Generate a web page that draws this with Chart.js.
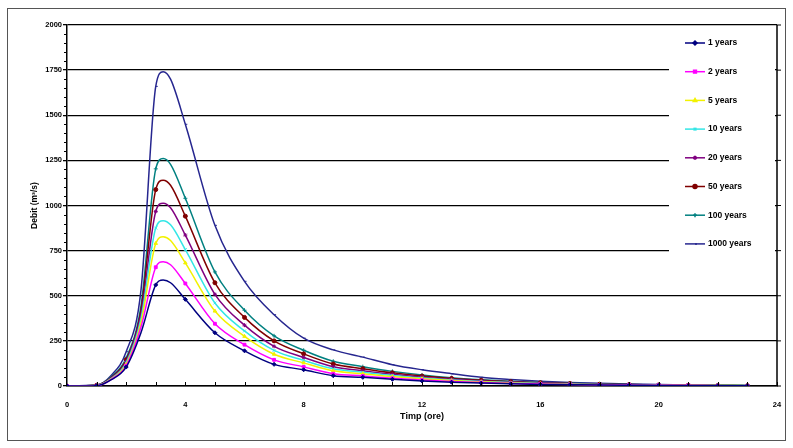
<!DOCTYPE html>
<html>
<head>
<meta charset="utf-8">
<script src="https://cdn.jsdelivr.net/npm/chart.js@4.4.1/dist/chart.umd.min.js"></script>
<style>
  html, body { margin: 0; padding: 0; background: #fff; }
  #wrap { width: 793px; height: 448px; }
</style>
</head>
<body>
<div id="wrap"><canvas id="chart" width="793" height="448"></canvas></div>
<script>
// Data (hours, discharge)
const hours = [0, 1, 1.5, 2, 2.5, 3, 3.25, 3.5, 4, 5, 6, 7, 8, 9, 10, 11, 12, 13, 14, 15, 16, 17, 18, 19, 20, 21, 22, 23];
const seriesLabels = ['1 years', '2 years', '5 years', '10 years', '20 years', '50 years', '100 years', '1000 years'];
const q1 = [0, 2, 35, 105, 295, 560, 587, 572, 480, 295, 195, 120, 90, 57, 48, 37, 28, 21, 16, 12, 9, 7, 5, 4, 3, 2, 2, 1];
const q2 = [0, 2, 37, 112, 325, 658, 689, 672, 568, 345, 229, 145, 106, 68, 56, 43, 33, 25, 19, 14, 11, 8, 6, 5, 4, 3, 2, 1];
const q5 = [0, 3, 40, 120, 350, 790, 827, 806, 682, 415, 275, 176, 128, 84, 68, 52, 40, 30, 23, 17, 13, 10, 7, 5, 4, 3, 3, 2];
const q10 = [0, 3, 42, 128, 372, 875, 916, 893, 756, 460, 305, 197, 142, 95, 76, 58, 44, 33, 25, 19, 14, 11, 8, 6, 5, 3, 3, 2];
const q20 = [0, 3, 45, 136, 395, 967, 1013, 988, 836, 508, 337, 220, 158, 107, 85, 65, 49, 37, 28, 21, 16, 12, 9, 7, 5, 4, 3, 2];
const q50 = [0, 4, 48, 145, 418, 1088, 1140, 1112, 941, 572, 380, 250, 178, 122, 96, 73, 55, 42, 32, 24, 18, 14, 10, 8, 6, 4, 3, 2];
const q100 = [0, 4, 52, 155, 442, 1203, 1260, 1228, 1040, 632, 420, 278, 198, 137, 107, 81, 61, 46, 35, 26, 20, 15, 11, 8, 6, 5, 4, 3];
const q1000 = [0, 5, 60, 190, 530, 1660, 1741, 1700, 1450, 890, 580, 395, 265, 200, 160, 118, 90, 68, 48, 36, 27, 20, 15, 11, 8, 6, 5, 3];
const yTicks = [0, 250, 500, 750, 1000, 1250, 1500, 1750, 2000];
const xTicks = [0, 4, 8, 12, 16, 20, 24];

// Styles
const colors = ['#000080', '#ff00ff', '#f2f200', '#33e6e6', '#800080', '#800000', '#008080', '#26268f'];
const markers = ['rectRot', 'rect', 'triangle', 'crossRot', 'star', 'circle', 'cross', 'dash'];
const FONT = 'Liberation Sans, Arial, sans-serif';

const allSeries = [q1, q2, q5, q10, q20, q50, q100, q1000];

const datasets = allSeries.map((vals, i) => ({
    label: seriesLabels[i],
    data: hours.map((h, j) => ({ x: h, y: vals[j] })),
    borderColor: colors[i],
    backgroundColor: colors[i],
    borderWidth: 1.5,
    pointStyle: markers[i],
    // markers only on the whole hours, as in the original
    pointRadius: c => (c.raw && Number.isInteger(c.raw.x)) ? 2 : 0,
    pointBorderWidth: 1,
    cubicInterpolationMode: 'monotone',
    fill: false
}));

// Frame, right border, minor ticks and legend
const decorPlugin = {
    id: 'decor',
    beforeDraw(chart) {
        const ctx = chart.ctx;
        ctx.save();
        ctx.fillStyle = '#fff';
        ctx.fillRect(0, 0, chart.width, chart.height);
        ctx.strokeStyle = '#555';
        ctx.lineWidth = 1;
        ctx.strokeRect(7.5, 8.5, 778, 432);
        ctx.restore();
    },
    afterDraw(chart) {
        const ctx = chart.ctx;
        const area = chart.chartArea;
        const xs = chart.scales.x;
        const ys = chart.scales.y;
        ctx.save();
        ctx.strokeStyle = '#000';
        // right border with outward ticks
        ctx.lineWidth = 1.5;
        ctx.beginPath();
        ctx.moveTo(area.right, area.top);
        ctx.lineTo(area.right, area.bottom);
        ctx.stroke();
        ctx.lineWidth = 1;
        yTicks.forEach(v => {
            const y = ys.getPixelForValue(v);
            ctx.beginPath();
            ctx.moveTo(area.right, y);
            ctx.lineTo(area.right + 4, y);
            ctx.stroke();
        });
        // y minor ticks
        for (let v = 50; v < 2000; v += 50) {
            if (v % 250 === 0) continue;
            const y = Math.round(ys.getPixelForValue(v)) + 0.5;
            ctx.beginPath();
            ctx.moveTo(area.left - 3, y);
            ctx.lineTo(area.left, y);
            ctx.stroke();
        }
        // x ticks every hour, pointing up
        for (let h = 1; h <= 24; h++) {
            const x = Math.round(xs.getPixelForValue(h)) + 0.5;
            ctx.beginPath();
            ctx.moveTo(x, area.bottom);
            ctx.lineTo(x, area.bottom - 4);
            ctx.stroke();
        }
        // legend
        ctx.fillStyle = '#fff';
        ctx.fillRect(669, 30, 106, 226);
        ctx.font = 'bold 8.5px ' + FONT;
        ctx.textBaseline = 'middle';
        ctx.textAlign = 'left';
        chart.data.datasets.forEach((ds, i) => {
            const y = 43 + i * 28.7;
            ctx.strokeStyle = ds.borderColor;
            ctx.fillStyle = ds.borderColor;
            ctx.lineWidth = 1.5;
            ctx.beginPath();
            ctx.moveTo(685, y);
            ctx.lineTo(705, y);
            ctx.stroke();
            Chart.helpers.drawPoint(ctx, {
                pointStyle: ds.pointStyle, radius: 2, borderWidth: 1, rotation: 0
            }, 695, y);
            ctx.fillStyle = '#000';
            ctx.fillText(ds.label, 708, y);
        });
        ctx.restore();
    }
};

const ctx = document.getElementById('chart').getContext('2d');
new Chart(ctx, {
    type: 'line',
    data: { datasets },
    plugins: [decorPlugin],
    options: {
        responsive: false,
        animation: false,
        layout: { padding: { left: 0, top: 25, right: 16, bottom: 0 } },
        plugins: {
            legend: { display: false },
            tooltip: { enabled: false }
        },
        scales: {
            x: {
                type: 'linear',
                min: 0,
                max: 24,
                afterFit: s => { s.height = 62; },
                afterBuildTicks: s => { s.ticks = xTicks.map(v => ({ value: v })); },
                grid: { display: false },
                border: { display: true, color: '#000', width: 1.5 },
                ticks: {
                    color: '#000',
                    padding: 6,
                    maxRotation: 0,
                    callback: v => String(v),
                    font: { family: FONT, size: 7.5, weight: 'bold' }
                },
                title: {
                    display: true,
                    text: 'Timp (ore)',
                    color: '#000',
                    padding: { top: 0, bottom: 26 },
                    font: { family: FONT, size: 9, weight: 'bold' }
                }
            },
            y: {
                min: 0,
                max: 2000,
                afterFit: s => { s.width = 67; },
                afterBuildTicks: s => { s.ticks = yTicks.map(v => ({ value: v })); },
                grid: {
                    color: '#000',
                    lineWidth: 1.3,
                    drawTicks: true,
                    tickLength: 4,
                    tickColor: '#000'
                },
                border: { display: true, color: '#000', width: 1.5 },
                ticks: {
                    color: '#000',
                    padding: 1,
                    callback: v => String(v),
                    font: { family: FONT, size: 7.5, weight: 'bold' }
                },
                title: {
                    display: true,
                    text: 'Debit (m³/s)',
                    color: '#000',
                    padding: { top: 30, bottom: 0 },
                    font: { family: FONT, size: 8.5, weight: 'bold' }
                }
            }
        }
    }
});
</script>
</body>
</html>
